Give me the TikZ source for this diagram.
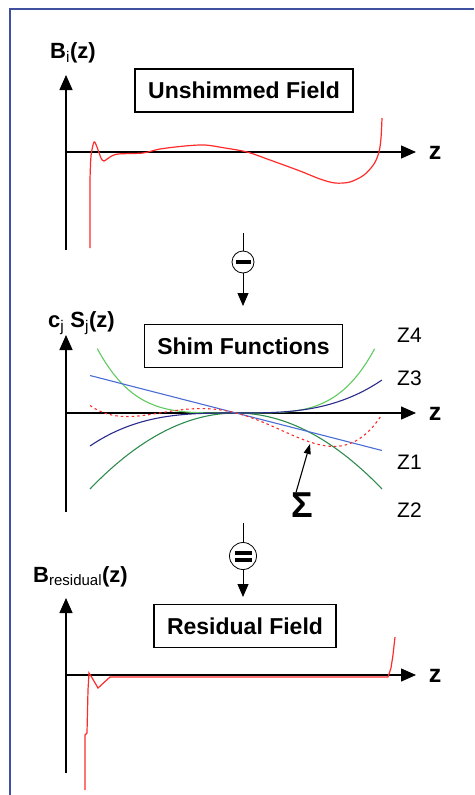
\documentclass[tikz,border=0pt]{standalone}
\usepackage{fontspec}
\setmainfont{Liberation Sans}
\usetikzlibrary{arrows.meta,positioning}
\definecolor{FrameBlue}{HTML}{4050A0}
\definecolor{FieldRed}{HTML}{FF2A2A}
\definecolor{ZOneBlue}{HTML}{4A6CD4}
\definecolor{ZTwoGreen}{HTML}{2E8B4E}
\definecolor{ZThreeNavy}{HTML}{2A2A8A}
\definecolor{ZFourGreen}{HTML}{5FCB5F}
\newcommand{\lsub}[1]{\textsubscript{\mdseries #1}}

\begin{document}
\begin{tikzpicture}[x=1pt, y=-1pt,
  title/.style={draw, line width=1.4pt, inner xsep=13pt, minimum height=43pt,
    font=\fontsize{23}{26}\selectfont\bfseries},
  axis/.style={line width=1.3pt, -{Triangle[length=15pt,width=13pt]}},
  ylab/.style={anchor=base west, inner sep=0pt, font=\fontsize{22}{24}\selectfont\bfseries},
  zlab/.style={font=\fontsize{25}{27}\selectfont\bfseries},
  shimlab/.style={anchor=west, inner sep=0pt, font=\fontsize{21}{23}\selectfont},
  op/.style={circle, draw, line width=0.8pt, minimum size=22pt, inner sep=0pt},
  flow/.style={line width=1pt, -{Triangle[length=13pt,width=11pt]}},
  field/.style={FieldRed, line width=1.2pt},
  shim/.style={line width=1.1pt, domain=-1:1, samples=60, smooth},
]
\useasboundingbox (0,0) rectangle (474,795);

% Frame
\draw[FrameBlue, line width=2pt] (9.5,795) -- (9.5,8.5) -- (474,8.5);

% Unshimmed field
\node[ylab] (blab) at (50,58) {B\lsub{i}(z)};
\node[title] (unshim) at (244,90.5) {Unshimmed Field};
\coordinate (o1) at (66,152);
\coordinate (y1b) at (66,250);
\coordinate (y1t) at (66,75);
\coordinate (x1e) at (416,152);
\draw[axis] (y1b) -- (y1t);
\draw[axis] (o1) -- (x1e);
\node[zlab] (z1) at (435,153) {z};
\draw[field] (90,248) -- plot[smooth, tension=0.5] coordinates {(90,180) (91,156) (94,142)
  (97,147) (101,158) (104,161) (110,157) (118,154) (143,153) (160,149) (185,146) (205,145)
  (225,148) (247,152) (270,160) (300,171) (320,179) (335,183) (350,182) (364,175) (374,164)
  (379,152) (381,138) (382,118)};

% Minus
\coordinate (m-in) at (243,233);
\node[op] (minus) at (243,262) {\rule{15pt}{4.5pt}};
\coordinate (m-out) at (243,306);
\draw[line width=1pt] (m-in) -- (minus);
\draw[flow] (minus) -- (m-out);

% Shim functions
\node[ylab] (clab) at (48,327) {c\lsub{j} S\lsub{j}(z)};
\node[title] (shimf) at (243.5,346) {Shim Functions};
\coordinate (o2) at (66,413);
\coordinate (y2b) at (66,512);
\coordinate (y2t) at (66,335);
\coordinate (x2e) at (416,413);
\draw[axis] (y2b) -- (y2t);
\draw[axis] (o2) -- (x2e);
\node[zlab] (z2) at (435,414) {z};
\draw[shim, ZFourGreen, domain=-0.95:0.95] plot ({236+146*\x}, {413-79*\x*\x*\x*\x});
\draw[shim, ZTwoGreen] plot ({236+146*\x}, {413+76*\x*\x});
\draw[shim, ZThreeNavy] plot ({236+146*\x}, {413-33*\x*\x*\x});
\draw[shim, ZOneBlue] plot ({236+146*\x}, {413+37.5*\x});
\draw[shim, FieldRed, dash pattern=on 2.5pt off 3pt]
  plot ({236+146*\x}, {413+37.5*\x+76*\x*\x-33*\x*\x*\x-79*\x*\x*\x*\x});
\node[shimlab] (zfour) at (397,335) {Z4};
\node[shimlab] (zthree) at (397,378) {Z3};
\node[shimlab] (zone) at (397,462) {Z1};
\node[shimlab] (ztwo) at (397,510) {Z2};
\node[font=\fontsize{36}{38}\selectfont\bfseries, inner sep=0pt] (sigma) at (302,505) {Σ};
\coordinate (sumtip) at (310,444);
\draw[line width=1.1pt, -{Triangle[length=10pt,width=7pt]}] ([xshift=-6pt]sigma.north) -- (sumtip);

% Equals
\coordinate (e-in) at (243,523);
\node[op, minimum size=27pt] (equals) at (243,556)
  {\vbox{\hrule width 17pt height 4pt \vskip 3pt \hrule width 17pt height 4pt}};
\coordinate (e-out) at (243,597);
\draw[line width=1pt] (e-in) -- (equals);
\draw[flow] (equals) -- (e-out);

% Residual field
\node[ylab] (rlab) at (33,582) {B\lsub{\fontsize{15}{16}\selectfont residual}(z)};
\node[title] (resid) at (245,626) {Residual Field};
\coordinate (o3) at (66,675);
\coordinate (y3b) at (66,773);
\coordinate (y3t) at (66,598);
\coordinate (x3e) at (416,675);
\draw[axis] (y3b) -- (y3t);
\draw[axis] (o3) -- (x3e);
\node[zlab] (z3) at (435,676) {z};
\draw[field] (85,790) -- (85,735) -- (87,733) -- (88,690) -- (89,673) -- (91,676) -- (98,688)
  -- (110,677) -- (388,677) -- (391,668) -- (393,655) -- (395,637);

\end{tikzpicture}
\end{document}
